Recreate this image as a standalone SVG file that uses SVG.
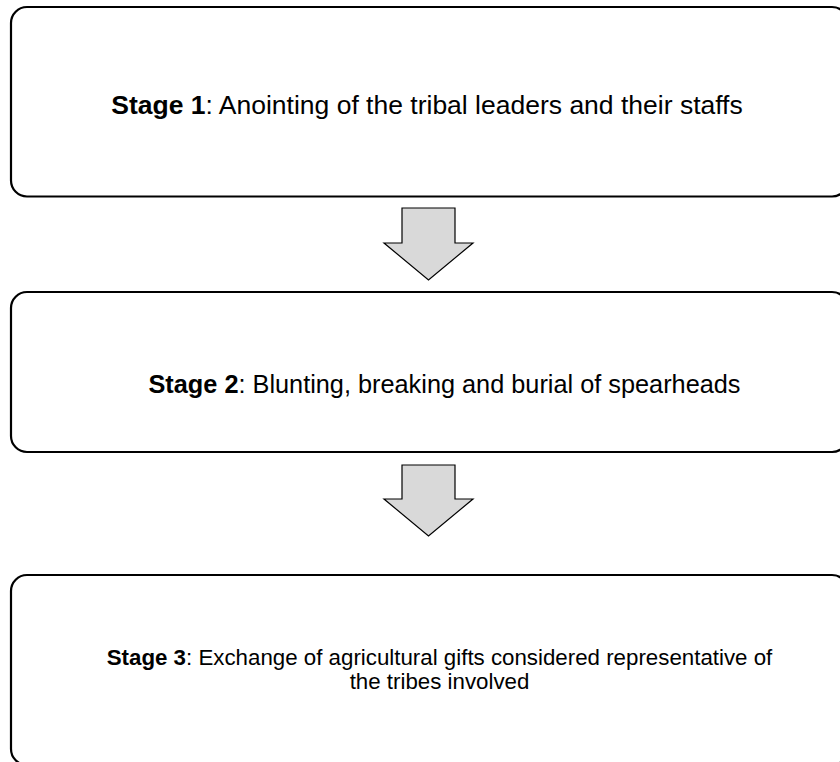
<svg xmlns="http://www.w3.org/2000/svg" width="840" height="762" viewBox="0 0 840 762">
  <style>
    .box { fill: #ffffff; stroke: #000000; stroke-width: 2.2; }
    .arrow { fill: #d9d9d9; stroke: #000000; stroke-width: 1.2; stroke-linejoin: miter; }
    .label { font-family: "Liberation Sans", Arial, sans-serif; fill: #000000; text-anchor: middle; }
    .b { font-weight: bold; }
  </style>
  <rect width="840" height="762" fill="#ffffff"/>

  <g id="stage1">
    <rect class="box" x="11" y="7" width="837" height="189.5" rx="16" ry="16"/>
    <text class="label" x="427" y="114" font-size="26.5"><tspan class="b">Stage 1</tspan>: Anointing of the tribal leaders and their staffs</text>
  </g>

  <g id="stage2">
    <rect class="box" x="11" y="292" width="837" height="160" rx="16" ry="16"/>
    <text class="label" x="444.5" y="393" font-size="25.3"><tspan class="b">Stage 2</tspan>: Blunting, breaking and burial of spearheads</text>
  </g>

  <g id="stage3">
    <rect class="box" x="11" y="575" width="837" height="190" rx="16" ry="16"/>
    <text class="label" x="439.5" y="665" font-size="22.3"><tspan class="b">Stage 3</tspan>: Exchange of agricultural gifts considered representative of</text>
    <text class="label" x="439.5" y="689" font-size="22.3">the tribes involved</text>
  </g>

  <g id="connectors">
    <polygon class="arrow" points="402,208 455,208 455,243 473,243 428.5,280 384,243 402,243"/>
    <polygon class="arrow" points="402,465 455,465 455,499 473,499 428.5,536 384,499 402,499"/>
  </g>
</svg>
